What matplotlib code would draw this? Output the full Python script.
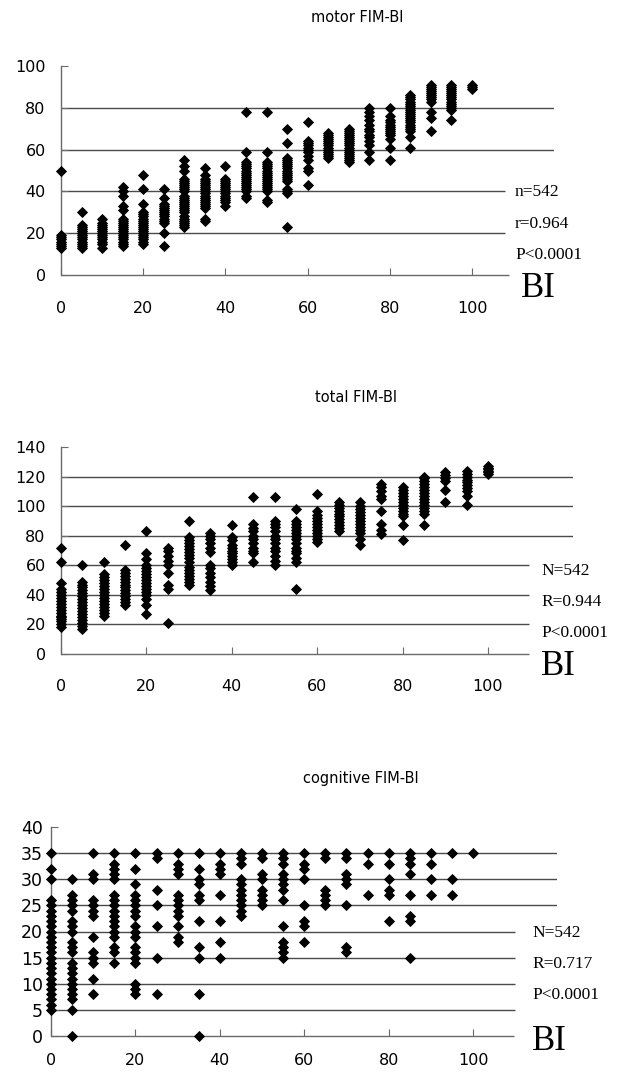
import matplotlib
matplotlib.use("Agg")
import matplotlib.pyplot as plt

W, H = 617, 1072

bi_levels = [0, 5, 10, 15, 20, 25, 30, 35, 40, 45, 50, 55, 60, 65, 70, 75, 80, 85, 90, 95, 100]

# motor FIM score read per BI column
motor_fim = [
    [13, 14, 15, 16, 17, 18, 19, 50],
    [13, 14, 15, 16, 17, 18, 19, 20, 21, 22, 23, 24, 30],
    [13, 15, 16, 17, 18, 19, 20, 21, 22, 23, 24, 25, 27],
    [14, 15, 16, 17, 18, 19, 20, 21, 22, 23, 24, 25, 26, 27, 31, 33, 38, 40, 42],
    [15, 16, 17, 18, 19, 20, 21, 22, 23, 24, 25, 26, 27, 28, 29, 30, 34, 41, 48],
    [14, 20, 25, 26, 27, 28, 29, 30, 31, 32, 33, 34, 37, 41],
    [23, 24, 25, 26, 27, 28, 30, 31, 32, 33, 34, 35, 36, 37, 38, 40, 41, 42, 43, 44, 45, 46, 50, 52, 55],
    [26, 27, 32, 33, 34, 35, 36, 37, 38, 39, 40, 41, 42, 43, 44, 45, 46, 48, 51],
    [33, 35, 36, 37, 38, 39, 40, 41, 42, 43, 44, 45, 46, 52],
    [37, 38, 40, 41, 42, 43, 44, 45, 46, 47, 48, 49, 50, 51, 52, 53, 54, 59, 78],
    [35, 36, 40, 41, 42, 43, 44, 45, 46, 47, 48, 49, 50, 51, 52, 53, 54, 59, 78],
    [23, 39, 40, 41, 45, 46, 47, 48, 49, 50, 51, 52, 53, 54, 55, 56, 63, 70],
    [43, 50, 51, 55, 57, 59, 60, 61, 62, 63, 64, 73],
    [56, 57, 58, 59, 60, 61, 62, 63, 64, 65, 66, 67, 68],
    [54, 55, 56, 57, 58, 59, 60, 61, 62, 63, 64, 65, 66, 67, 68, 69, 70],
    [55, 59, 62, 64, 66, 67, 69, 70, 72, 74, 76, 78, 80],
    [55, 61, 65, 67, 68, 69, 70, 71, 72, 73, 74, 76, 80],
    [61, 66, 69, 70, 71, 72, 73, 74, 75, 76, 77, 78, 79, 80, 81, 82, 83, 84, 85, 86],
    [69, 75, 78, 83, 84, 85, 86, 87, 88, 89, 90, 91],
    [74, 79, 80, 81, 82, 83, 84, 85, 86, 87, 88, 89, 90, 91],
    [89, 90, 91],
]

# total FIM score read per BI column
total_fim = [
    [18, 20, 22, 24, 25, 26, 28, 30, 32, 34, 36, 38, 40, 42, 44, 48, 62, 72],
    [17, 19, 21, 23, 25, 27, 29, 31, 33, 35, 37, 39, 41, 43, 45, 47, 49, 60],
    [26, 28, 30, 32, 34, 36, 38, 40, 42, 44, 46, 48, 50, 52, 54, 62],
    [33, 35, 37, 39, 41, 43, 45, 47, 49, 51, 53, 55, 57, 74],
    [27, 33, 37, 40, 42, 44, 46, 48, 50, 52, 54, 56, 58, 60, 64, 68, 83],
    [21, 44, 47, 55, 60, 63, 66, 70, 72],
    [47, 49, 51, 53, 55, 57, 59, 62, 65, 67, 69, 71, 73, 75, 77, 79, 90],
    [43, 46, 49, 52, 55, 58, 60, 69, 72, 75, 78, 80, 82],
    [60, 62, 64, 66, 68, 70, 72, 74, 77, 79, 87],
    [62, 68, 70, 72, 75, 78, 80, 83, 85, 88, 106],
    [60, 63, 66, 70, 72, 75, 78, 80, 83, 86, 88, 90, 106],
    [44, 62, 65, 68, 70, 72, 75, 78, 80, 82, 84, 86, 88, 90, 98],
    [76, 78, 80, 82, 84, 86, 88, 90, 92, 94, 97, 108],
    [83, 85, 87, 89, 91, 93, 95, 97, 99, 101, 103],
    [74, 78, 82, 84, 86, 88, 90, 92, 94, 96, 98, 100, 103],
    [81, 84, 88, 97, 105, 107, 110, 113, 115],
    [77, 87, 93, 95, 97, 99, 101, 103, 105, 107, 109, 111, 113],
    [87, 95, 97, 99, 101, 103, 105, 107, 109, 111, 113, 115, 117, 119, 120],
    [103, 111, 117, 119, 121, 123],
    [101, 107, 110, 112, 114, 116, 118, 120, 122, 124],
    [122, 123, 124, 125, 126, 127],
]

# cognitive FIM score read per BI column
cognitive_fim = [
    [5, 6, 7, 8, 9, 10, 11, 12, 13, 14, 15, 16, 17, 18, 19, 20, 21, 22, 23, 24, 25, 26, 30, 32, 35],
    [0, 5, 7, 8, 9, 10, 11, 12, 13, 14, 16, 17, 18, 20, 21, 22, 24, 25, 26, 27, 30],
    [8, 11, 14, 15, 16, 19, 23, 24, 25, 26, 30, 31, 35],
    [14, 16, 17, 19, 20, 21, 22, 23, 24, 25, 26, 27, 30, 31, 32, 33, 35],
    [8, 9, 10, 14, 15, 16, 17, 19, 20, 21, 23, 24, 25, 26, 27, 29, 32, 35],
    [8, 15, 21, 25, 28, 34, 35],
    [18, 19, 21, 23, 24, 25, 26, 27, 31, 32, 33, 35],
    [0, 8, 15, 17, 22, 26, 27, 29, 30, 32, 35],
    [15, 18, 22, 27, 31, 32, 33, 35],
    [23, 24, 25, 26, 27, 28, 29, 30, 33, 34, 35],
    [25, 26, 27, 28, 30, 31, 34, 35],
    [15, 16, 17, 18, 21, 26, 28, 29, 30, 31, 33, 34, 35],
    [18, 21, 22, 25, 30, 32, 33, 35],
    [25, 26, 27, 28, 34, 35],
    [16, 17, 25, 29, 30, 31, 34, 35],
    [27, 33, 35],
    [22, 27, 28, 30, 33, 35],
    [15, 22, 23, 27, 31, 33, 34, 35],
    [27, 30, 33, 35],
    [27, 30, 35],
    [35],
]

x_ticks = [0, 20, 40, 60, 80, 100]
motor_yticks = [0, 20, 40, 60, 80, 100]
total_yticks = [0, 20, 40, 60, 80, 100, 120, 140]
cognitive_yticks = [0, 5, 10, 15, 20, 25, 30, 35, 40]

motor_stats = ["n=542", "r=0.964", "P<0.0001"]
total_stats = ["N=542", "R=0.944", "P<0.0001"]
cognitive_stats = ["N=542", "R=0.717", "P<0.0001"]

GRID = "#4a4a4a"
SPINE = "#6a6a6a"


def px(x, y):
    return x / W, 1 - y / H


def draw_panel(fig, x0, y0, xscale, ytop, ymax, yticks, values, short_grid,
               long_grid, short_end, axis_end, ylab_pad, ylab_size, xlab_pad):
    # axes spans x 0..120, y 0..ymax, placed by pixel positions
    left, bottom = px(x0, y0)
    width = 120 * xscale / W
    height = (y0 - ytop) / H
    ax = fig.add_axes([left, bottom, width, height])
    ax.set_xlim(0, 120)
    ax.set_ylim(0, ymax)
    for side in ["top", "right", "bottom"]:
        ax.spines[side].set_visible(False)
    ax.spines["left"].set_color(SPINE)
    ax.spines["left"].set_linewidth(1.0)

    ax.hlines(short_grid, 0, short_end, color=GRID, lw=1.0, zorder=1)
    ax.hlines(long_grid, 0, 120, color=GRID, lw=1.0, zorder=1)
    ax.hlines(0, 0, axis_end, color=SPINE, lw=1.0, zorder=1, clip_on=False)

    for bi, ys in zip(bi_levels, values):
        ax.plot([bi] * len(ys), ys, linestyle="none", marker="D", ms=4.8,
                mfc="black", mec="black", mew=0.6, zorder=3, clip_on=False)

    ax.set_xticks(x_ticks)
    ax.set_yticks(yticks)
    ax.tick_params(axis="x", direction="in", length=5, color=SPINE,
                   labelsize=11.5, pad=xlab_pad)
    ax.tick_params(axis="y", direction="in", length=5, color=SPINE,
                   labelsize=ylab_size, pad=ylab_pad)
    return ax


fig = plt.figure(figsize=(W / 100, H / 100), dpi=100)

# motor FIM-BI
draw_panel(fig, 61, 275, 4.11, 66, 100, motor_yticks, motor_fim,
           [20, 40], [60, 80], 108, 109, 11, 11.5, 19)
fig.text(*px(357, 17), "motor FIM-BI", ha="center", va="center", fontsize=10.5)
for s, yb in zip(motor_stats, [196, 228, 259]):
    fig.text(*px(515, yb), s, family="Liberation Serif", fontsize=12.5,
             va="baseline")
fig.text(*px(521, 297), "BI", family="Liberation Serif", fontsize=25,
         va="baseline")

# total FIM-BI
draw_panel(fig, 61, 654, 4.27, 447, 140, total_yticks, total_fim,
           [20, 40, 60], [80, 100, 120], 109.5, 109.5, 11, 11.5, 18)
fig.text(*px(356, 398), "total FIM-BI", ha="center", va="center", fontsize=10.5)
for s, yb in zip(total_stats, [575, 606, 637]):
    fig.text(*px(541, yb), s, family="Liberation Serif", fontsize=12.5,
             va="baseline")
fig.text(*px(541, 675), "BI", family="Liberation Serif", fontsize=25,
         va="baseline")

# cognitive FIM-BI
draw_panel(fig, 51, 1036, 4.22, 827, 40, cognitive_yticks, cognitive_fim,
           [5, 10, 15, 20], [25, 30, 35], 110, 109.7, 6, 12.5, 12)
fig.text(*px(361, 778), "cognitive FIM-BI", ha="center", va="center",
         fontsize=10.5)
for s, yb in zip(cognitive_stats, [937, 968, 999]):
    fig.text(*px(532, yb), s, family="Liberation Serif", fontsize=12.5,
             va="baseline")
fig.text(*px(532, 1050), "BI", family="Liberation Serif", fontsize=25,
         va="baseline")

fig.savefig("out.png", dpi=100, facecolor="white")
